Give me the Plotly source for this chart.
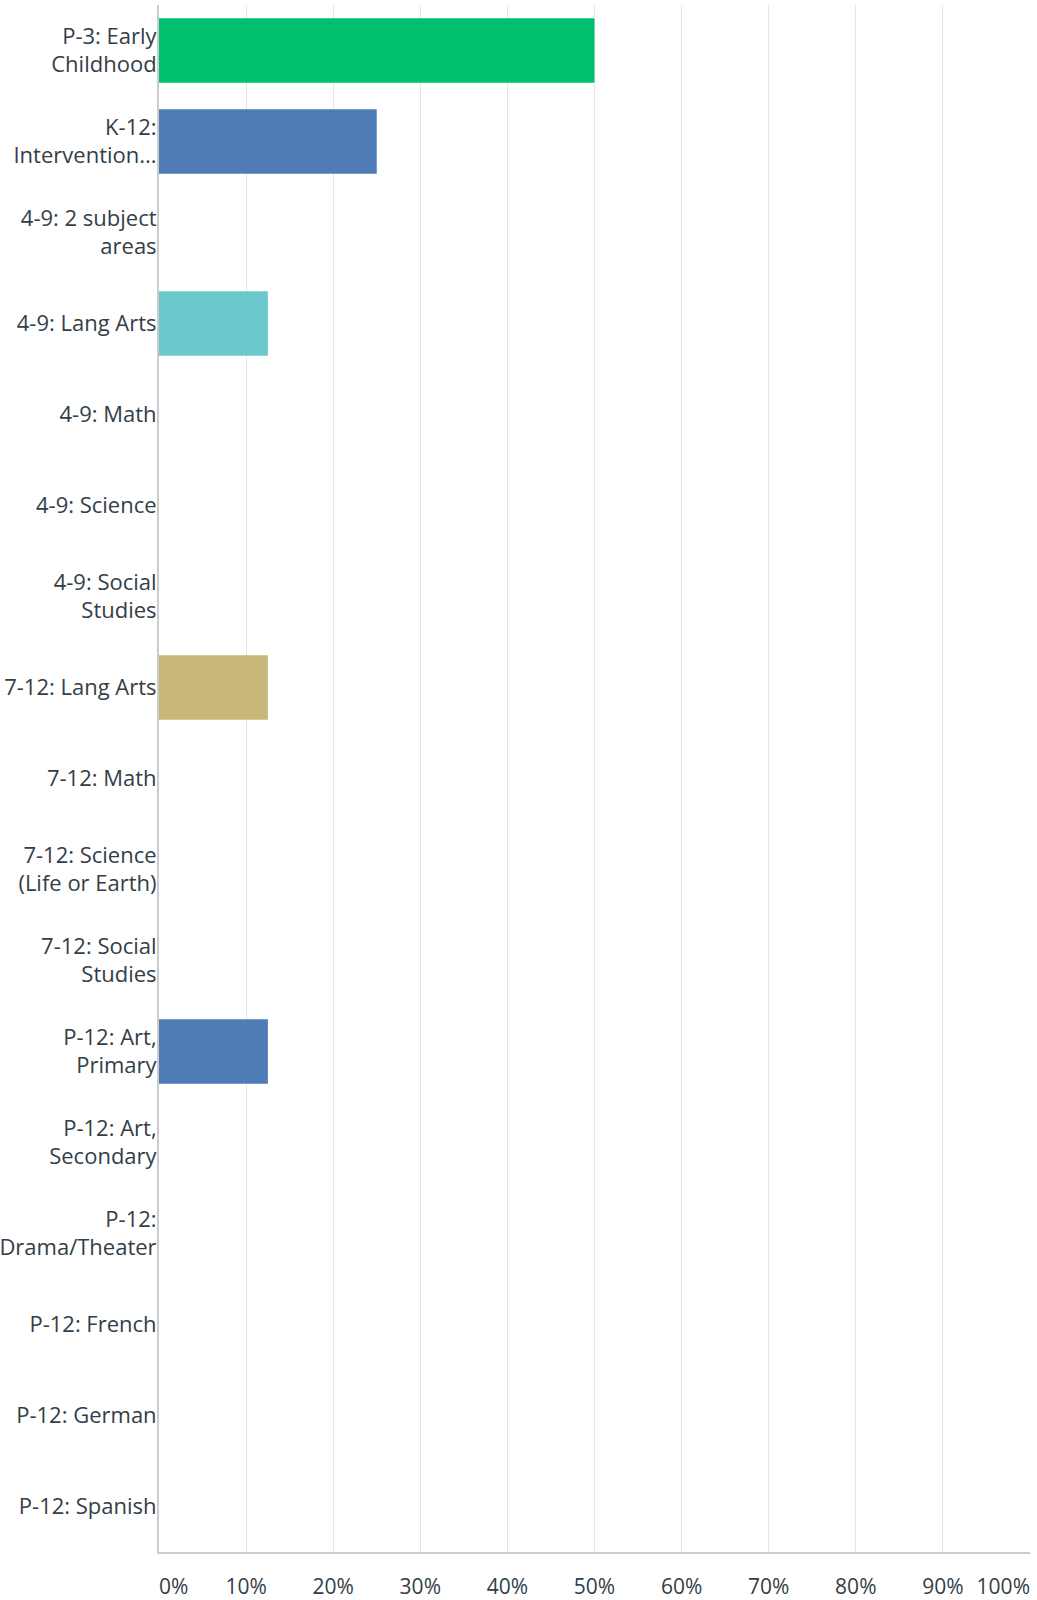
import plotly.graph_objects as go

categories = [
    "P-3: Early<br>Childhood",
    "K-12:<br>Intervention...",
    "4-9: 2 subject<br>areas",
    "4-9: Lang Arts",
    "4-9: Math",
    "4-9: Science",
    "4-9: Social<br>Studies",
    "7-12: Lang Arts",
    "7-12: Math",
    "7-12: Science<br>(Life or Earth)",
    "7-12: Social<br>Studies",
    "P-12: Art,<br>Primary",
    "P-12: Art,<br>Secondary",
    "P-12:<br>Drama/Theater",
    "P-12: French",
    "P-12: German",
    "P-12: Spanish",
]
values = [0.50, 0.25, 0.0, 0.125, 0.0, 0.0, 0.0, 0.125, 0.0, 0.0, 0.0, 0.125, 0.0, 0.0, 0.0, 0.0, 0.0]
colors = ["#00BF6F", "#507CB6", "#F9BE00", "#6BC8CD", "#FF8B4F", "#7D5BA6", "#DBB500",
          "#C7B879", "#00BF6F", "#507CB6", "#F9BE00", "#507CB6", "#6BC8CD", "#FF8B4F",
          "#7D5BA6", "#DBB500", "#C7B879"]
mid_tick_vals = [0.1, 0.2, 0.3, 0.4, 0.5, 0.6, 0.7, 0.8, 0.9]
mid_tick_text = ["10%", "20%", "30%", "40%", "50%", "60%", "70%", "80%", "90%"]
first_tick_val, first_tick_text = 0, "0%"
last_tick_val, last_tick_text = 1, "100%"

text_color = "#333E48"
font_family = "Open Sans, Lato, Roboto, sans-serif"

fig = go.Figure()
fig.add_trace(go.Bar(
    x=values,
    y=categories,
    orientation="h",
    marker=dict(color=colors, line=dict(width=0)),
    hoverinfo="skip",
))
# invisible companions so the overlaid edge-label axes get drawn
for ax in ("x2", "x3"):
    fig.add_trace(go.Scatter(
        x=values, y=categories, xaxis=ax, yaxis="y",
        mode="markers", marker=dict(opacity=0, size=1),
        hoverinfo="skip", showlegend=False,
    ))

common_x = dict(
    range=[0, 1],
    zeroline=False,
    ticks="",
    automargin=False,
    fixedrange=True,
    tickfont=dict(size=21, color=text_color),
)

fig.update_layout(
    width=1037,
    height=1600,
    margin=dict(l=159, r=7, t=5, b=48, autoexpand=False),
    paper_bgcolor="white",
    plot_bgcolor="white",
    bargap=0.29,
    showlegend=False,
    font=dict(family=font_family, size=22, color=text_color),
    xaxis=dict(
        tickvals=mid_tick_vals,
        ticktext=mid_tick_text,
        ticklabelstandoff=15,
        showgrid=True,
        gridcolor="#E5E5E5",
        gridwidth=1,
        showline=True,
        linecolor="#CCCCCC",
        linewidth=2,
        **common_x,
    ),
    xaxis2=dict(
        overlaying="x",
        side="bottom",
        anchor="y",
        tickvals=[first_tick_val],
        ticktext=[first_tick_text],
        ticklabelposition="outside right",
        ticklabelstandoff=20,
        showgrid=False,
        showline=False,
        **common_x,
    ),
    xaxis3=dict(
        overlaying="x",
        side="bottom",
        anchor="y",
        tickvals=[last_tick_val],
        ticktext=[last_tick_text],
        ticklabelposition="outside left",
        ticklabelstandoff=20,
        showgrid=True,
        gridcolor="#E5E5E5",
        gridwidth=1,
        showline=False,
        **common_x,
    ),
    yaxis=dict(
        range=[len(categories) - 0.5, -0.5],
        showgrid=False,
        zeroline=False,
        showline=True,
        linecolor="#CCCCCC",
        linewidth=2,
        ticks="",
        ticklabelstandoff=-4,
        ticklabeloverflow="allow",
        automargin=False,
        fixedrange=True,
        tickfont=dict(size=22, color=text_color),
    ),
)

fig.write_html(
    "out.html",
    config={"displayModeBar": False},
    post_script="document.body.style.margin='0';document.body.style.padding='0';",
)
